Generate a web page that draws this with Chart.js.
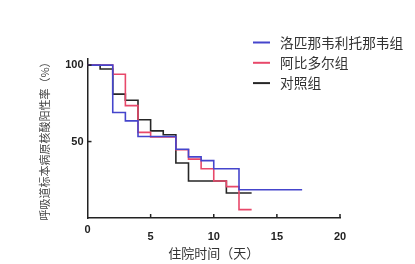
<!DOCTYPE html>
<html>
<head>
<meta charset="utf-8">
<script src="https://cdn.jsdelivr.net/npm/chart.js@4/dist/chart.umd.min.js"></script>
<style>
  html, body { margin: 0; padding: 0; background: #fff; }
  #wrap { width: 415px; height: 264px; position: relative; }
</style>
</head>
<body>
<div id="wrap"><canvas id="km"></canvas></div>
<script>
// days (step start) and positive rate (%) per group
var groupNames = ["洛匹那韦利托那韦组", "阿比多尔组", "对照组"];
var lopDays = [0, 2, 3, 4, 7, 8, 9, 10, 12, 17];
var lopRate = [100, 69, 63.5, 53.3, 45, 40, 37.5, 32.2, 18.5, 18.5];
var arbDays = [0, 2, 3, 4, 5, 7, 8, 9, 10, 11, 12, 13];
var arbRate = [100, 94, 73.5, 56, 53, 44.6, 38.5, 32.2, 24.2, 20.5, 5.5, 5.5];
var ctlDays = [0, 1, 2, 3, 4, 5, 6, 7, 8, 11, 13];
var ctlRate = [100, 97.5, 81, 77, 64.3, 57, 54.5, 36, 24.2, 16.4, 16.4];
var xTicks = [0, 5, 10, 15, 20];
var yTicks = [0, 50, 100];

var colors = ["#4545cc", "#e8486a", "#262626"];
var tickFont = { family: "'Liberation Sans', Arial, sans-serif", size: 11, weight: "bold" };
var cjk = "'Noto Sans CJK SC', sans-serif";

function pts(days, rate) {
  return days.map(function (d, i) { return { x: d, y: rate[i] }; });
}

// inward tick marks, the shared "0" and the legend
var extras = {
  id: "extras",
  afterDraw: function (chart) {
    var ctx = chart.ctx;
    var xs = chart.scales.x, ys = chart.scales.y;
    ctx.save();
    ctx.strokeStyle = "#222";
    ctx.lineWidth = 1.5;
    xTicks.forEach(function (v) {
      if (v === 0) return;
      var px = xs.getPixelForValue(v);
      ctx.beginPath(); ctx.moveTo(px, ys.bottom); ctx.lineTo(px, ys.bottom - 4); ctx.stroke();
    });
    yTicks.forEach(function (v) {
      if (v === 0) return;
      var py = ys.getPixelForValue(v);
      ctx.beginPath(); ctx.moveTo(xs.left, py); ctx.lineTo(xs.left + 4, py); ctx.stroke();
    });
    ctx.fillStyle = "#222";
    ctx.font = "bold 11px 'Liberation Sans', Arial, sans-serif";
    ctx.textAlign = "center";
    ctx.textBaseline = "middle";
    ctx.fillText("0", xs.getPixelForValue(0), 230);

    // legend
    ctx.font = "13.7px " + cjk;
    ctx.textAlign = "left";
    groupNames.forEach(function (name, i) {
      var y = 42.5 + i * 20.3;
      ctx.strokeStyle = colors[i];
      ctx.lineWidth = 2;
      ctx.beginPath(); ctx.moveTo(253, y); ctx.lineTo(270, y); ctx.stroke();
      ctx.fillStyle = "#333";
      ctx.fillText(name, 280, y);
    });
    ctx.restore();
  }
};

var datasets = [
  { label: groupNames[0], data: pts(lopDays, lopRate), borderColor: colors[0] },
  { label: groupNames[1], data: pts(arbDays, arbRate), borderColor: colors[1] },
  { label: groupNames[2], data: pts(ctlDays, ctlRate), borderColor: colors[2] }
].map(function (d) {
  d.stepped = true;
  d.borderWidth = 1.6;
  d.pointRadius = 0;
  d.fill = false;
  return d;
});

new Chart(document.getElementById("km"), {
  type: "line",
  data: { datasets: datasets },
  options: {
    responsive: true,
    maintainAspectRatio: false,
    animation: false,
    layout: { padding: { left: 0, right: 75, top: 59, bottom: 0 } },
    plugins: { legend: { display: false }, tooltip: { enabled: false } },
    scales: {
      x: {
        type: "linear",
        min: 0,
        max: 20,
        afterBuildTicks: function (s) { s.ticks = xTicks.map(function (v) { return { value: v }; }); },
        afterFit: function (s) { s.height = 46; },
        grid: { display: false, drawTicks: false },
        border: { display: true, color: "#222", width: 1.5 },
        ticks: {
          padding: 12,
          color: "#222",
          font: tickFont,
          maxRotation: 0,
          callback: function (v) { return v === 0 ? "" : v; }
        },
        title: {
          display: true,
          text: "住院时间（天）",
          color: "#333",
          font: { family: cjk, size: 13 },
          padding: { top: 0, bottom: 3 }
        }
      },
      y: {
        min: 0,
        max: 104,
        afterBuildTicks: function (s) { s.ticks = yTicks.map(function (v) { return { value: v }; }); },
        afterFit: function (s) { s.width = 87.5; },
        grid: { display: false, drawTicks: false },
        border: { display: true, color: "#222", width: 1.5 },
        ticks: {
          padding: 4,
          color: "#222",
          font: tickFont,
          callback: function (v) { return v === 0 ? "" : v; }
        },
        title: {
          display: true,
          text: "呼吸道标本病原核酸阳性率（%）",
          color: "#444",
          font: { family: cjk, size: 11 },
          padding: { top: 38, bottom: 0 }
        }
      }
    }
  },
  plugins: [extras]
});
</script>
</body>
</html>
